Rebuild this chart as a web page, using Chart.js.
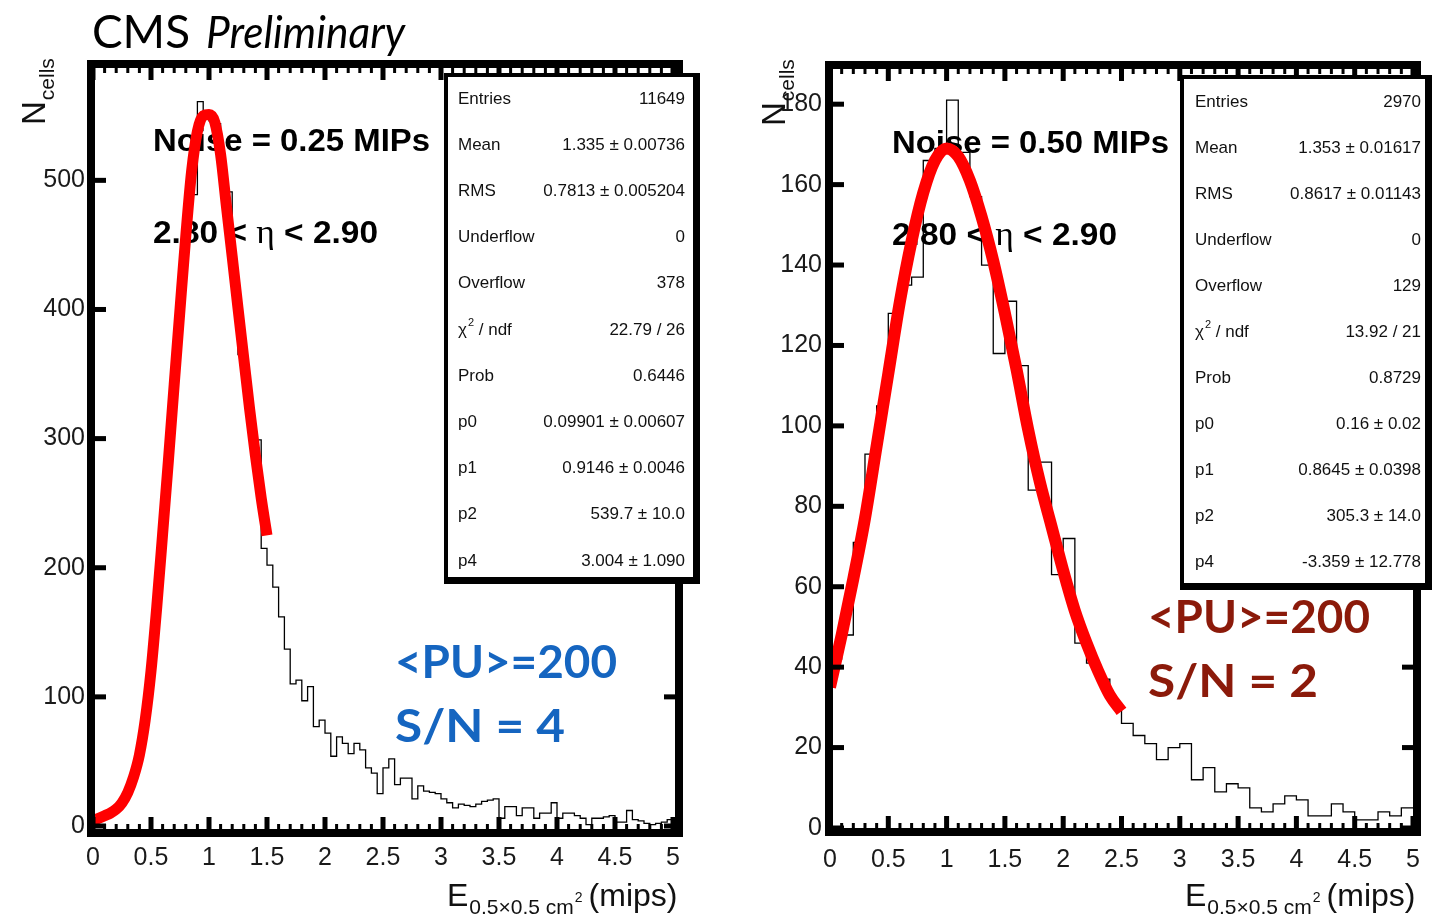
<!DOCTYPE html>
<html lang="en">
<head>
<meta charset="UTF-8" />
<title>CMS Preliminary - cell energy, noise 0.25 / 0.50 MIPs</title>
<script src="https://cdn.jsdelivr.net/npm/chart.js"></script>
<style>
  body { margin: 0; background: #fff; }
  canvas { position: absolute; top: 0; }
  #leftPanel { left: 0; }
  #rightPanel { left: 719px; }
</style>
</head>
<body>
<canvas id="leftPanel" width="719" height="914"></canvas>
<canvas id="rightPanel" width="719" height="914"></canvas>
<script>
// ---- data ----
const xTickValues = [0, 0.5, 1, 1.5, 2, 2.5, 3, 3.5, 4, 4.5, 5];
const xTickLabels = ['0', '0.5', '1', '1.5', '2', '2.5', '3', '3.5', '4', '4.5', '5'];

// left: noise 0.25 MIPs, 100 bins of 0.05
const leftBinWidth = 0.05;
const leftCounts = [
  5, 7, 9, 11, 15, 21, 31, 46, 67, 100,
  143, 198, 255, 312, 370, 428, 480, 489, 561, 548,
  546, 544, 492, 491, 420, 365, 340, 310, 299, 215,
  202, 185, 162, 137, 110, 113, 97, 108, 77, 82,
  72, 54, 69, 64, 56, 64, 59, 45, 41, 25,
  45, 52, 32, 37, 37, 21, 31, 27, 26, 25,
  21, 18, 14, 17, 16, 15, 17, 19, 20, 21,
  6, 15, 15, 8, 14, 14, 6, 10, 10, 18,
  6, 10, 10, 8, 6, 1, 6, 6, 7, 8,
  3, 3, 12, 5, 4, 2, 1, 2, 3, 5
];
const leftFitX = [0, 0.05, 0.1, 0.15, 0.2, 0.25, 0.3, 0.35, 0.4, 0.45, 0.5, 0.55, 0.6, 0.65, 0.7,
  0.75, 0.8, 0.85, 0.9, 0.95, 1.0, 1.05, 1.1, 1.15, 1.2, 1.25, 1.3, 1.35, 1.4, 1.45, 1.5];
const leftFitY = [4, 6, 8, 10, 13, 18, 26, 38, 55, 82, 120, 170, 226, 283, 342,
  400, 457, 507, 538, 550, 551, 545, 520, 480, 441, 401, 362, 323, 287, 254, 225];
const leftYTicks = [0, 100, 200, 300, 400, 500];
const leftStats = [
  ['Entries', '11649'], ['Mean', '1.335 \u00b1 0.00736'], ['RMS', '0.7813 \u00b1 0.005204'],
  ['Underflow', '0'], ['Overflow', '378'], ['\u03c7^2 / ndf', '22.79 / 26'], ['Prob', '0.6446'],
  ['p0', '0.09901 \u00b1 0.00607'], ['p1', '0.9146 \u00b1 0.0046'], ['p2', '539.7 \u00b1 10.0'],
  ['p4', '3.004 \u00b1 1.090']
];

// right: noise 0.50 MIPs, 50 bins of 0.1
const rightBinWidth = 0.1;
const rightCounts = [
  42, 48, 71, 93, 105, 128, 135, 137, 166, 169,
  181, 168, 157, 140, 118, 131, 115, 84, 91, 63,
  72, 46, 41, 37, 31, 26, 23, 21, 17, 20,
  21, 12, 15, 9, 11, 10, 5, 4, 6, 8,
  7, 3, 3, 6, 4, 2, 2, 4, 3, 5
];
const rightFitX = [0, 0.1, 0.2, 0.3, 0.4, 0.5, 0.6, 0.7, 0.8, 0.9, 1.0, 1.1, 1.2,
  1.3, 1.4, 1.5, 1.6, 1.7, 1.8, 1.9, 2.0, 2.1, 2.2, 2.3, 2.4, 2.5];
const rightFitY = [35, 48, 62, 77, 95, 113, 131, 146, 158, 166, 169, 167, 161,
  152, 141, 128, 114, 99, 86, 75, 64, 54, 46, 39, 33, 29];
const rightYTicks = [0, 20, 40, 60, 80, 100, 120, 140, 160, 180];
const rightStats = [
  ['Entries', '2970'], ['Mean', '1.353 \u00b1 0.01617'], ['RMS', '0.8617 \u00b1 0.01143'],
  ['Underflow', '0'], ['Overflow', '129'], ['\u03c7^2 / ndf', '13.92 / 21'], ['Prob', '0.8729'],
  ['p0', '0.16 \u00b1 0.02'], ['p1', '0.8645 \u00b1 0.0398'], ['p2', '305.3 \u00b1 14.0'],
  ['p4', '-3.359 \u00b1 12.778']
];

const SANS = '"Liberation Sans", Arial, sans-serif';
const GILL = 'Lato, "Open Sans", sans-serif';

function histPoints(counts, w) {
  const pts = counts.map((v, i) => ({ x: i * w, y: v }));
  pts.push({ x: counts.length * w, y: counts[counts.length - 1] });
  return pts;
}

function zip(xs, ys) {
  return xs.map((x, i) => ({ x: x, y: ys[i] }));
}

// draw a run of [text, font] pieces squeezed/stretched to a given width
function fitRun(ctx, pieces, x, y, width) {
  let total = 0;
  pieces.forEach(pc => { ctx.font = pc[1]; total += ctx.measureText(pc[0]).width; });
  ctx.save();
  ctx.translate(x, y);
  ctx.scale(width / total, 1);
  let cx = 0;
  pieces.forEach(pc => {
    ctx.font = pc[1];
    ctx.fillText(pc[0], cx, 0);
    cx += ctx.measureText(pc[0]).width;
  });
  ctx.restore();
}

// text with "^" marking a superscript character
function drawRich(ctx, text, x, y, size) {
  let cx = x;
  for (let i = 0; i < text.length; i++) {
    if (text[i] === '^') {
      i++;
      ctx.font = Math.round(size * 0.65) + 'px ' + SANS;
      ctx.fillText(text[i], cx + 1, y - size * 0.4);
      cx += ctx.measureText(text[i]).width + 1;
    } else {
      ctx.font = size + 'px ' + SANS;
      ctx.fillText(text[i], cx, y);
      cx += ctx.measureText(text[i]).width;
    }
  }
}

function makeRootPlugin(p) {
  return {
    id: 'rootStyle',
    beforeDatasetsDraw(chart) {
      const ctx = chart.ctx;
      ctx.save();
      ctx.fillStyle = '#000';
      ctx.textBaseline = 'alphabetic';
      const bold = 'bold 32px ' + SANS;
      fitRun(ctx, [[p.noise, bold]], p.noisePos[0], p.noisePos[1], 277);
      fitRun(ctx, [['2.80 < ', bold], ['\u03b7', '34px "Liberation Serif", serif'], [' < 2.90', bold]],
        p.etaPos[0], p.etaPos[1], 225);
      ctx.restore();
    },
    afterDatasetsDraw(chart) {
      const ctx = chart.ctx;
      const a = chart.chartArea;
      const xs = chart.scales.x, ys = chart.scales.y;
      ctx.save();

      // frame
      const f = p.frame;
      const fx1 = a.left + f[0], fy1 = a.top + f[1], fx2 = a.right + f[2], fy2 = a.bottom + f[3];
      const inL = fx1 + 4, inT = fy1 + 4, inR = fx2 - 4, inB = fy2 - 4;

      ctx.fillStyle = '#000';
      // x ticks, top and bottom, pointing inwards
      for (let k = 0; k <= 50; k++) {
        const px = xs.getPixelForValue(k * 0.1);
        const major = k % 5 === 0;
        const len = major ? 12 : 5, w = major ? 5 : 3;
        ctx.fillRect(px - w / 2, inB - len, w, len);
        ctx.fillRect(px - w / 2, inT, w, len);
      }
      // y ticks, left and right
      p.yTicks.forEach(v => {
        const py = ys.getPixelForValue(v);
        ctx.fillRect(inL, py - 2.5, 11, 5);
        ctx.fillRect(inR - 11, py - 2.5, 11, 5);
      });

      ctx.strokeStyle = '#000';
      ctx.lineWidth = 8;
      ctx.strokeRect(fx1, fy1, fx2 - fx1, fy2 - fy1);

      // stats box
      const b = p.box;
      ctx.fillStyle = '#000';
      ctx.fillRect(b[0], b[1], b[2], b[3]);
      ctx.fillStyle = '#fff';
      ctx.fillRect(b[0] + 4, b[1] + 4, b[2] - 11, b[3] - 11);
      ctx.fillStyle = '#111';
      ctx.textBaseline = 'middle';
      p.stats.forEach((row, i) => {
        const ry = p.statsY0 + i * p.statsStep;
        ctx.textAlign = 'left';
        drawRich(ctx, row[0], p.statsLabelX, ry, 17);
        ctx.textAlign = 'right';
        ctx.font = '17px ' + SANS;
        ctx.fillText(row[1], p.statsValueX, ry);
      });
      ctx.textAlign = 'left';
      ctx.textBaseline = 'alphabetic';

      // pile-up labels
      ctx.fillStyle = p.puColor;
      const puFont = 'bold 46px ' + GILL;
      fitRun(ctx, [['<PU>=200', puFont]], p.puPos[0], p.puPos[1], 222);
      fitRun(ctx, [[p.sn, puFont]], p.puPos[0], p.puPos[1] + 64, 170);

      // x title
      ctx.fillStyle = '#111';
      let tx = p.xTitlePos[0];
      const ty = p.xTitlePos[1];
      ctx.font = '32px ' + SANS;
      ctx.fillText('E', tx, ty);
      tx += ctx.measureText('E').width + 1;
      ctx.font = '21px ' + SANS;
      ctx.fillText('0.5\u00d70.5 cm', tx, ty + 8);
      tx += ctx.measureText('0.5\u00d70.5 cm').width + 1;
      ctx.font = '14px ' + SANS;
      ctx.fillText('2', tx, ty - 4);
      tx += ctx.measureText('2').width + 6;
      ctx.font = '32px ' + SANS;
      ctx.fillText('(mips)', tx, ty);

      // y title, rotated
      ctx.save();
      ctx.translate(p.yTitlePos[0], p.yTitlePos[1]);
      ctx.rotate(-Math.PI / 2);
      ctx.font = '33px ' + SANS;
      ctx.fillText('N', 0, 0);
      const nw = ctx.measureText('N').width;
      ctx.font = '21px ' + SANS;
      ctx.fillText('cells', nw + 1, 9);
      ctx.restore();

      if (p.cms) {
        ctx.fillStyle = '#000';
        fitRun(ctx, [['CMS', '47px ' + GILL]], 92, 48, 98);
        fitRun(ctx, [['Preliminary', 'italic 44px ' + GILL]], 206, 48, 199);
      }
      ctx.restore();
    }
  };
}

function makePanel(id, p) {
  const tickFont = { family: SANS, size: 25 };
  return new Chart(document.getElementById(id), {
    type: 'line',
    data: {
      datasets: [
        {
          data: zip(p.fitX, p.fitY),
          borderColor: '#ff0000',
          borderWidth: p.fitWidth,
          borderCapStyle: 'butt',
          pointRadius: 0,
          cubicInterpolationMode: 'monotone',
          fill: false
        },
        {
          data: histPoints(p.counts, p.binWidth),
          borderColor: '#000',
          borderWidth: 1.3,
          pointRadius: 0,
          stepped: true,
          fill: false
        }
      ]
    },
    options: {
      responsive: false,
      animation: false,
      events: [],
      layout: { padding: p.padding },
      scales: {
        x: {
          type: 'linear', min: 0, max: 5,
          afterBuildTicks: s => { s.ticks = xTickValues.map(v => ({ value: v })); },
          afterFit: s => { s.height = 60; },
          grid: { display: false, drawTicks: false },
          border: { display: false },
          ticks: {
            autoSkip: false, maxRotation: 0, padding: 17,
            font: tickFont, color: '#1a1a1a',
            callback: (v, i) => xTickLabels[i]
          }
        },
        y: {
          type: 'linear', min: 0, max: p.yMax,
          afterBuildTicks: s => { s.ticks = p.yTicks.map(v => ({ value: v })); },
          afterFit: s => { s.width = 60; },
          grid: { display: false, drawTicks: false },
          border: { display: false },
          ticks: {
            autoSkip: false, padding: 8,
            font: tickFont, color: '#1a1a1a',
            callback: (v, i) => String(p.yTicks[i])
          }
        }
      },
      plugins: { legend: { display: false }, tooltip: { enabled: false } }
    },
    plugins: [makeRootPlugin(p)]
  });
}

makePanel('leftPanel', {
  counts: leftCounts, binWidth: leftBinWidth, fitX: leftFitX, fitY: leftFitY, fitWidth: 11,
  yTicks: leftYTicks, yMax: 587, stats: leftStats,
  padding: { left: 33, top: 68, right: 46, bottom: 28 },
  frame: [-2, -4, 6, 7],
  box: [444, 73, 256, 511], statsLabelX: 458, statsValueX: 685, statsY0: 99, statsStep: 46.2,
  noise: 'Noise = 0.25 MIPs', noisePos: [153, 151], etaPos: [153, 243],
  puColor: '#1565c0', puPos: [395, 678], sn: 'S/N = 4',
  xTitlePos: [447, 906], yTitlePos: [45, 125], cms: true
});

makePanel('rightPanel', {
  counts: rightCounts, binWidth: rightBinWidth, fitX: rightFitX, fitY: rightFitY, fitWidth: 12,
  yTicks: rightYTicks, yMax: 189, stats: rightStats,
  padding: { left: 51, top: 68, right: 25, bottom: 26 },
  frame: [-1, -3, 4, 4],
  box: [461, 75, 252, 515], statsLabelX: 476, statsValueX: 702, statsY0: 102, statsStep: 46,
  noise: 'Noise = 0.50 MIPs', noisePos: [173, 153], etaPos: [173, 245],
  puColor: '#8b1a0a', puPos: [429, 633], sn: 'S/N = 2',
  xTitlePos: [466, 906], yTitlePos: [66, 126], cms: false
});
</script>
</body>
</html>
